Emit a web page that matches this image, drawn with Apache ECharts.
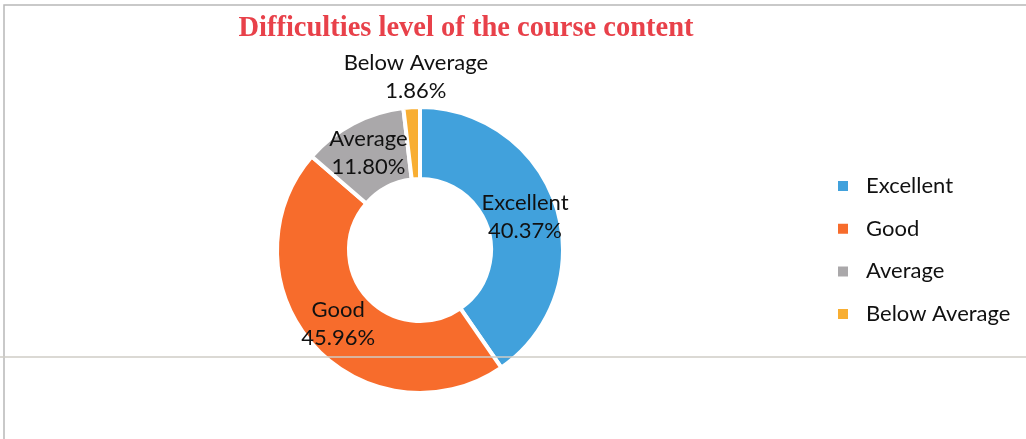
<!DOCTYPE html>
<html>
<head>
<meta charset="utf-8">
<script src="https://cdn.jsdelivr.net/npm/echarts@6/dist/echarts.min.js"></script>
<style>
  html, body { margin: 0; padding: 0; background: #fff; }
  #chart { width: 1026px; height: 439px; }
</style>
</head>
<body>
<div id="chart"></div>
<script>
(function() {
    'use strict';

    var categories = ['Excellent', 'Good', 'Average', 'Below Average'];
    var percents = [40.37, 45.96, 11.80, 1.86];
    var colors = ['#41a1dc', '#f76c2c', '#aaa8aa', '#f8ae32'];

    var labelFont = 'Lato, "Open Sans", sans-serif';

    var data = categories.map(function(name, i) {
        var item = { name: name, value: percents[i], itemStyle: { color: colors[i] } };
        if (name === 'Below Average') {
            item.label = { position: 'outside' };
            item.labelLine = { show: false, length: 30, length2: 0 };
        }
        return item;
    });

    var chart = echarts.init(document.getElementById('chart'));
    chart.setOption({
        backgroundColor: '#ffffff',
        animation: false,
        title: {
            text: 'Difficulties level of the course content',
            left: 461,
            top: 9,
            textAlign: 'center',
            textStyle: {
                fontFamily: '"Liberation Serif", "DejaVu Serif", serif',
                fontWeight: 'bold',
                fontSize: 28.5,
                color: '#e8414a'
            }
        },
        legend: {
            orient: 'vertical',
            left: 831,
            top: 170,
            itemWidth: 12,
            itemHeight: 12,
            itemGap: 20.7,
            icon: 'rect',
            data: categories,
            textStyle: {
                fontFamily: labelFont,
                fontSize: 22,
                lineHeight: 22,
                color: '#111111',
                padding: [0, 0, 0, 12]
            }
        },
        series: [{
            type: 'pie',
            center: [420, 250],
            radius: [71, 143],
            startAngle: 90,
            clockwise: true,
            avoidLabelOverlap: false,
            itemStyle: { borderColor: '#ffffff', borderWidth: 4 },
            label: {
                show: true,
                position: 'inside',
                formatter: function(p) { return p.name + '\n' + p.value.toFixed(2) + '%'; },
                fontFamily: labelFont,
                fontSize: 22,
                lineHeight: 28,
                color: '#111111'
            },
            labelLine: { show: false },
            labelLayout: function(params) {
                // centre the small outside label over its slice
                if (params.dataIndex === 3) {
                    return { align: 'center', dx: 11 };
                }
            },
            data: data
        }],
        graphic: [
            {
                type: 'polyline',
                shape: { points: [[4, 439], [4, 5], [1026, 5]] },
                style: { stroke: '#b8b8b8', lineWidth: 1.5, fill: null }
            },
            {
                type: 'line',
                z: 100,
                shape: { x1: 0, y1: 357, x2: 1026, y2: 357 },
                style: { stroke: '#cfcdc6', lineWidth: 1.5 }
            }
        ]
    });
})();
</script>
</body>
</html>
